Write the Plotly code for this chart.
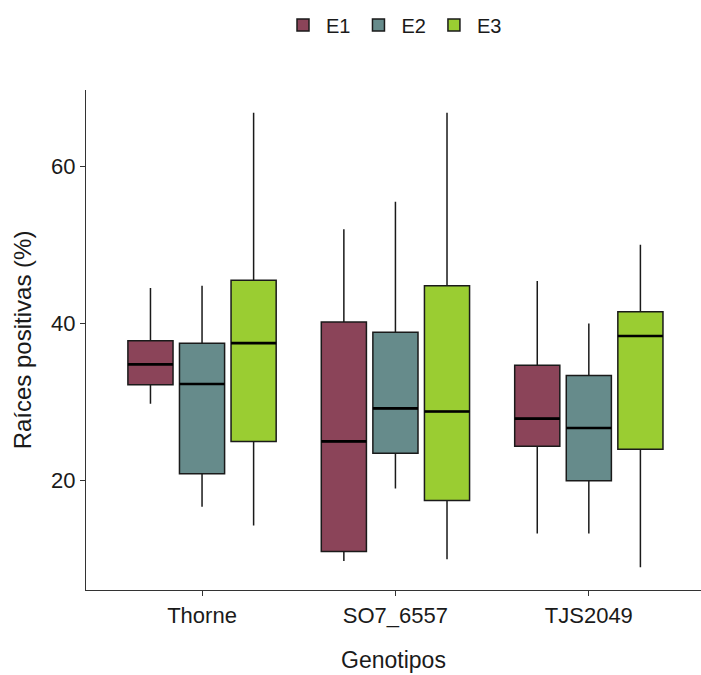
import plotly.graph_objects as go

genotypes = ["Thorne", "SO7_6557", "TJS2049"]
series = ["E1", "E2", "E3"]
colors = {"E1": "#8B4459", "E2": "#668B8B", "E3": "#9ACD32"}

lower = {"E1": [29.8, 9.8, 13.3], "E2": [16.7, 19.0, 13.3], "E3": [14.3, 10.0, 9.0]}
q1 = {"E1": [32.2, 11.0, 24.4], "E2": [20.9, 23.5, 20.0], "E3": [25.0, 17.5, 24.0]}
median = {"E1": [34.8, 25.0, 27.9], "E2": [32.3, 29.2, 26.7], "E3": [37.5, 28.8, 38.4]}
q3 = {"E1": [37.8, 40.2, 34.7], "E2": [37.5, 38.9, 33.4], "E3": [45.5, 44.8, 41.5]}
upper = {"E1": [44.5, 52.0, 45.4], "E2": [44.8, 55.5, 40.0], "E3": [66.8, 66.8, 50.0]}

y_ticks = [20, 40, 60]

fig = go.Figure()
for s in series:
    fig.add_trace(go.Box(
        name=s,
        x=genotypes,
        lowerfence=lower[s],
        q1=q1[s],
        median=median[s],
        q3=q3[s],
        upperfence=upper[s],
        fillcolor=colors[s],
        line=dict(color="#1a1a1a", width=1.5),
        whiskerwidth=0,
        boxpoints=False,
        hoverinfo="skip",
        offsetgroup=s,
        alignmentgroup="all",
    ))
# thicker median line (ggplot style), drawn as a collapsed box at the median
for s in series:
    fig.add_trace(go.Box(
        name=s,
        x=genotypes,
        lowerfence=median[s],
        q1=median[s],
        median=median[s],
        q3=median[s],
        upperfence=median[s],
        fillcolor="rgba(0,0,0,0)",
        line=dict(color="#000000", width=2.6),
        whiskerwidth=0,
        boxpoints=False,
        hoverinfo="skip",
        showlegend=False,
        offsetgroup=s,
        alignmentgroup="all",
    ))

font_family = "Liberation Sans, Arial, sans-serif"
fig.update_layout(
    width=701,
    height=675,
    boxmode="group",
    boxgap=0.2,
    boxgroupgap=0.125,
    plot_bgcolor="white",
    paper_bgcolor="white",
    margin=dict(l=86, r=0, t=90, b=85),
    font=dict(family=font_family, size=22, color="#1a1a1a"),
    legend=dict(
        orientation="h",
        x=0.5, xanchor="center",
        y=0.963, yanchor="middle",
        yref="container",
        font=dict(size=20, color="#1a1a1a"),
        itemwidth=36,
        traceorder="normal",
    ),
    xaxis=dict(
        type="category",
        range=[-0.6, 2.58],
        automargin=False,
        showline=True, linecolor="#333333", linewidth=1.3,
        ticks="outside", ticklen=5, tickcolor="#333333", tickwidth=1.3,
        showgrid=False, zeroline=False,
        tickfont=dict(size=22, color="#1a1a1a"),
        title=dict(text="Genotipos", font=dict(size=23, color="#1a1a1a"), standoff=25),
    ),
    yaxis=dict(
        range=[6.1, 69.7],
        tickvals=y_ticks,
        automargin=False,
        showline=True, linecolor="#333333", linewidth=1.3,
        ticks="outside", ticklen=5, tickcolor="#333333", tickwidth=1.3,
        showgrid=False, zeroline=False,
        tickfont=dict(size=22, color="#1a1a1a"),
        title=dict(text="Raíces positivas (%)", font=dict(size=24, color="#1a1a1a"), standoff=12),
    ),
)

fig.write_html("out.html", config={"displayModeBar": False},
               post_script="document.body.style.margin='0';")
